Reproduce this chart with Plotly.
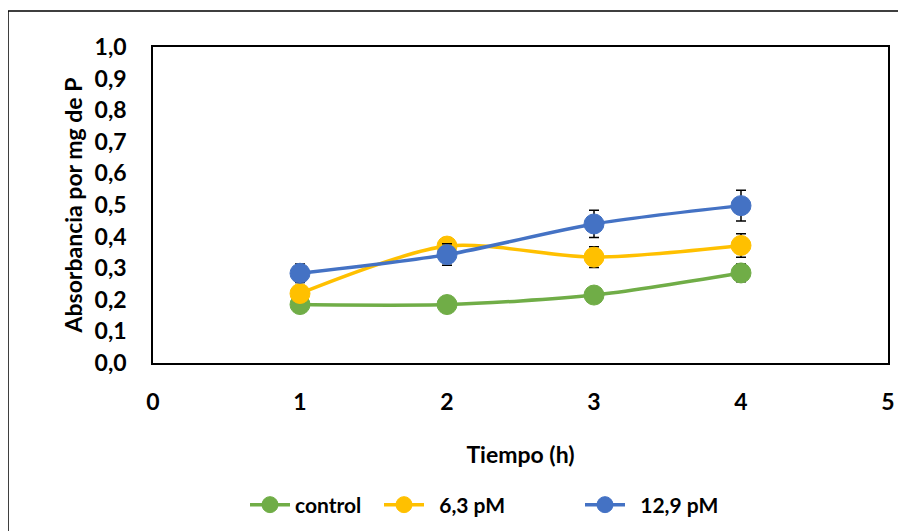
import plotly.graph_objects as go

tiempo = [1, 2, 3, 4]
control = [0.185, 0.185, 0.215, 0.285]
control_err = [0.01, 0.01, 0.01, 0.028]
pm63 = [0.22, 0.37, 0.335, 0.372]
pm63_err = [0.01, 0.026, 0.033, 0.037]
pm129 = [0.284, 0.343, 0.44, 0.498]
pm129_err = [0.029, 0.034, 0.043, 0.049]

y_ticks = [i / 10 for i in range(11)]
y_ticklabels = [f"{v:.1f}".replace(".", ",") for v in y_ticks]
x_ticks = [0, 1, 2, 3, 4, 5]

FONT = "Lato"

series = [
    ("control", control, control_err, "#70AD47", "legend"),
    ("  6,3 pM", pm63, pm63_err, "#FFC000", "legend2"),
    ("  12,9 pM", pm129, pm129_err, "#4472C4", "legend3"),
]

fig = go.Figure()
for name, ys, err, col, leg in series:
    fig.add_trace(go.Scatter(
        x=tiempo, y=ys, name=name, mode="lines+markers",
        line=dict(color=col, width=3.5, shape="spline", smoothing=0.8),
        marker=dict(color=col, size=20, line=dict(color=col, width=1)),
        error_y=dict(type="data", array=err, visible=True, color="black",
                     thickness=1.5, width=5),
        legend=leg, showlegend=True,
    ))

# page offset compensation (the page body adds an 8px margin)
W, H = 898, 523
L, T, R, B = 145, 39, 18, 168
pw, ph = W - L - R, H - T - B

leg_common = dict(orientation="h", yanchor="middle", xanchor="left",
                  itemwidth=40,
                  font=dict(family=FONT, size=21, color="black", weight="bold"),
                  bgcolor="rgba(0,0,0,0)")
leg_y = -(497 - (H - B)) / ph

fig.update_layout(
    width=W, height=H, showlegend=True,
    margin=dict(l=L, r=R, t=T, b=B, autoexpand=False),
    paper_bgcolor="white", plot_bgcolor="white",
    font=dict(family=FONT, color="black"),
    xaxis=dict(range=[0, 5], tickvals=x_ticks, showgrid=False, zeroline=False,
               showline=True, linecolor="black", linewidth=1.5, mirror=True,
               ticks="", ticklabelstandoff=18, automargin=False,
               tickfont=dict(family=FONT, size=23, color="black", weight="bold"),
               title=dict(text="<b>Tiempo (h)</b>", standoff=33,
                          font=dict(family=FONT, size=23, color="black"))),
    yaxis=dict(range=[0, 1], tickvals=y_ticks, ticktext=y_ticklabels,
               showgrid=False, zeroline=False, showline=True, linecolor="black",
               linewidth=1.5, mirror=True, ticks="", ticklabelstandoff=20,
               automargin=False,
               tickfont=dict(family=FONT, size=23, color="black", weight="bold"),
               title=dict(text="<b>Absorbancia por mg de P</b>", standoff=6,
                          font=dict(family=FONT, size=23, color="black"))),
    legend=dict(x=(237 - L) / pw, y=leg_y, **leg_common),
    legend2=dict(x=(371 - L) / pw, y=leg_y, **leg_common),
    legend3=dict(x=(572 - L) / pw, y=leg_y, **leg_common),
    shapes=[dict(type="rect", xref="paper", yref="paper",
                 x0=(0 - L) / pw, x1=1.2, y0=-0.8, y1=(H - B - 3) / ph,
                 line=dict(color="black", width=1.5), layer="below")],
)

fig.write_html("out.html")
